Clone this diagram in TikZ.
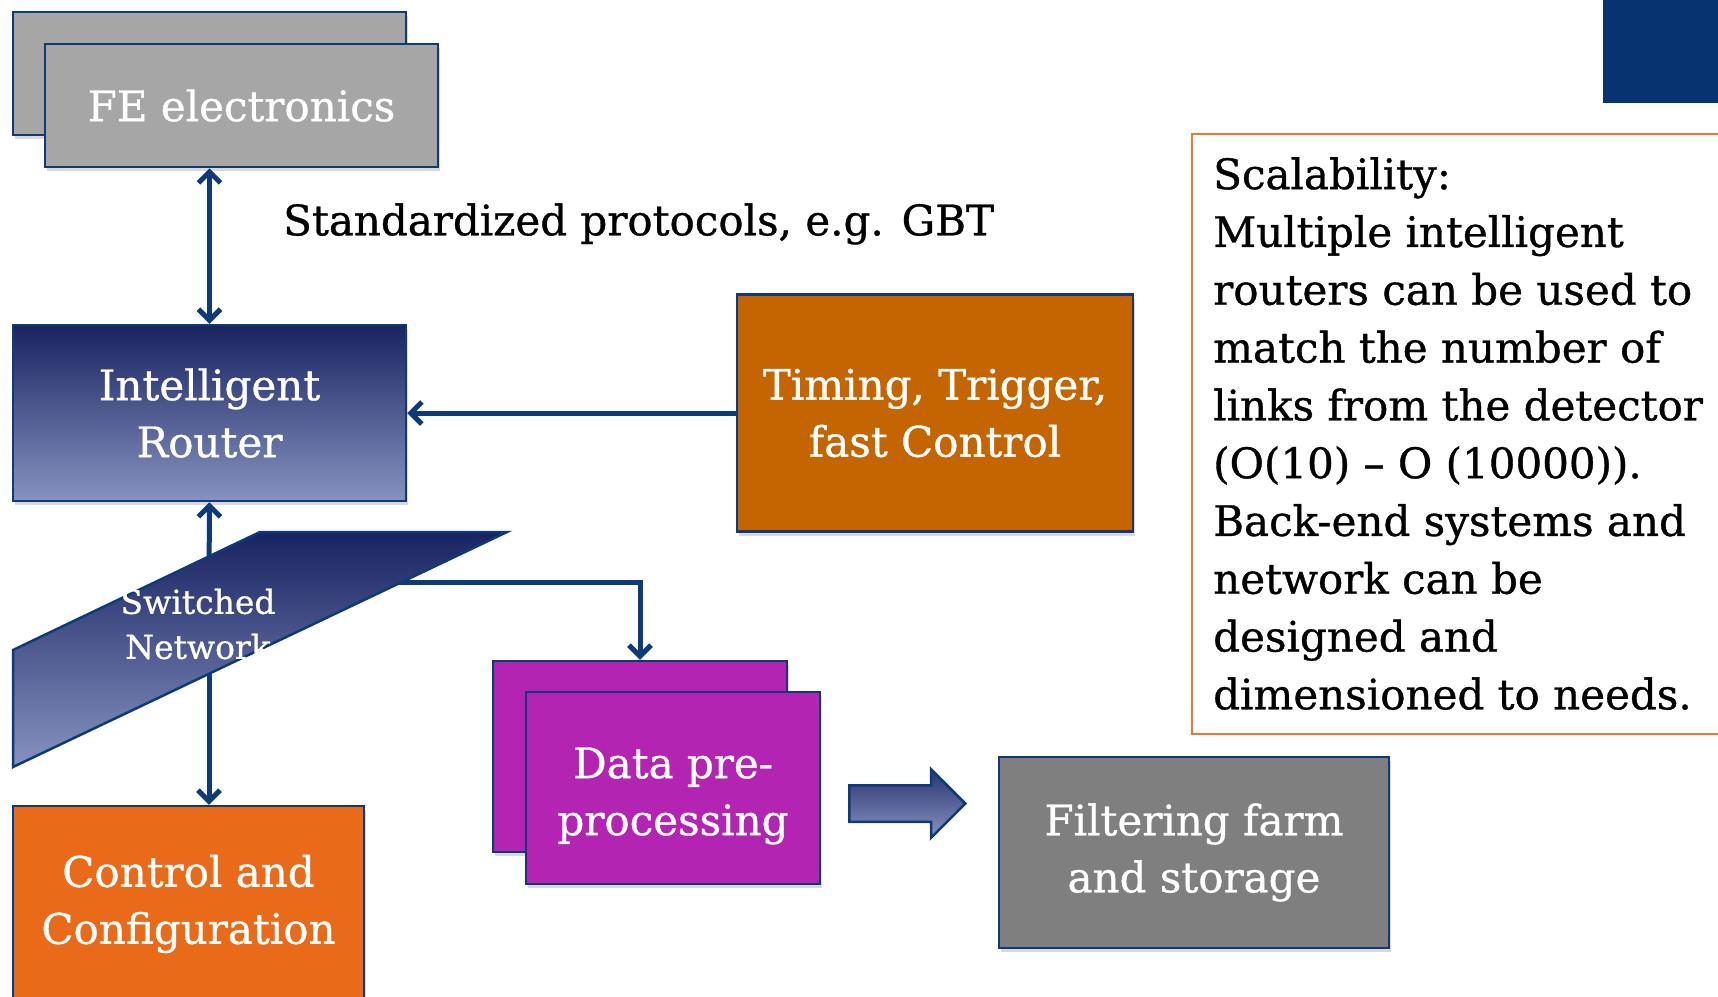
\documentclass[tikz,border=0pt]{standalone}
\usepackage{fontspec}
\setmainfont{DejaVu Serif}[FakeBold=0.8]
\usetikzlibrary{arrows.meta,shapes.arrows,shadows}
\definecolor{linkblue}{RGB}{14,58,122}
\definecolor{navytop}{RGB}{24,35,97}
\definecolor{navybot}{RGB}{134,147,192}
\definecolor{feggray}{RGB}{166,166,166}
\definecolor{timingorange}{RGB}{197,101,2}
\definecolor{ctrlorange}{RGB}{233,106,24}
\definecolor{prepurple}{RGB}{179,36,178}
\definecolor{filtergray}{RGB}{127,127,127}
\definecolor{notebox}{RGB}{236,120,56}
\definecolor{cornerblue}{RGB}{7,52,113}
\newcommand\boxfont{\fontsize{42}{57}\selectfont}
\tikzset{
    box/.style={draw=linkblue, line width=2.5pt, text=white, align=center, font=\boxfont,
        inner sep=0pt, drop shadow={opacity=.3, shadow xshift=2pt, shadow yshift=-4pt}},
    link/.style={draw=linkblue, line width=5pt},
    navyshade/.style={top color=navytop, bottom color=navybot},
}
\begin{document}
\begin{tikzpicture}[x=1pt, y=-1pt, >={Straight Barb[length=11pt,width=22pt]}]
        \useasboundingbox (0,0) rectangle (1718,996);
        \clip (0,0) rectangle (1718,996);
        \fill [cornerblue] (1603,0) rectangle (1718,103);
        % boxes
        \node [box, fill=feggray, minimum width=393pt, minimum height=123pt] (feback) at (209.5,73.5) {};
        \node [box, fill=feggray, minimum width=393pt, minimum height=123pt] (fe) at (241.5,105.5) {FE electronics};
        \node [box, navyshade, minimum width=393pt, minimum height=176pt] (router) at (209.5,413) {Intelligent\\Router};
        \node [box, fill=timingorange, minimum width=396pt, minimum height=237pt] (timing) at (935,413) {Timing, Trigger,\\fast Control};
        \node [box, fill=ctrlorange, minimum width=351pt, minimum height=196pt] (control) at (188.5,904) {Control and\\Configuration};
        \node [box, fill=prepurple, minimum width=294pt, minimum height=191pt] (prepback) at (640,756.5) {};
        \node [box, fill=prepurple, minimum width=294pt, minimum height=192pt] (prep) at (673,788) {};
        \node [text=white, align=center, font=\boxfont, inner sep=0pt] (preptext) at (673,796) {Data pre-\\processing};
        \node [box, fill=filtergray, minimum width=390pt, minimum height=191pt] (filter) at (1194,852.5) {Filtering farm\\and storage};
        % connectors
        \coordinate (net) at (209,582);
        \draw [link,<->] (router.north |- fe.south) -- (router.north);
        \draw [link,->] (timing.west) -- (router.east);
        \draw [link,->] (net) -- (router.south);
        \draw [link,->] (net) -- (net |- control.north);
        \draw [link,->] (net) -| (prepback.north);
        \filldraw [navyshade, draw=linkblue, line width=2.5pt] (13,650) -- (260,532) -- (507,532) -- (13,767) -- cycle;
        \node [text=white, align=center, font=\fontsize{33}{45}\selectfont, inner sep=0pt] (netlabel) at (198,624) {Switched\\Network};
        \node [single arrow, draw=linkblue, line width=2.5pt, top color=navytop!85!navybot, bottom color=navybot,
            minimum height=116pt, inner xsep=0pt, inner ysep=17pt, single arrow head extend=16pt, anchor=tail] (blk) at (848,803.5) {};
        % notes
        \node [anchor=west, font=\boxfont, inner sep=0pt] (gbt) at (283,224) {Standardized protocols, e.g. GBT};
        \draw [notebox, line width=2pt] (1192,134) rectangle (1730,734);
        \node [anchor=north west, align=left, font=\fontsize{42}{57.8}\selectfont, inner sep=0pt] (scal) at (1213,157)
            {Scalability:\\Multiple intelligent\\routers can be used to\\match the number of\\links from the detector\\(O(10) -- O (10000)).\\Back-end systems and\\network can be\\designed and\\dimensioned to needs.};
    \end{tikzpicture}
\end{document}
